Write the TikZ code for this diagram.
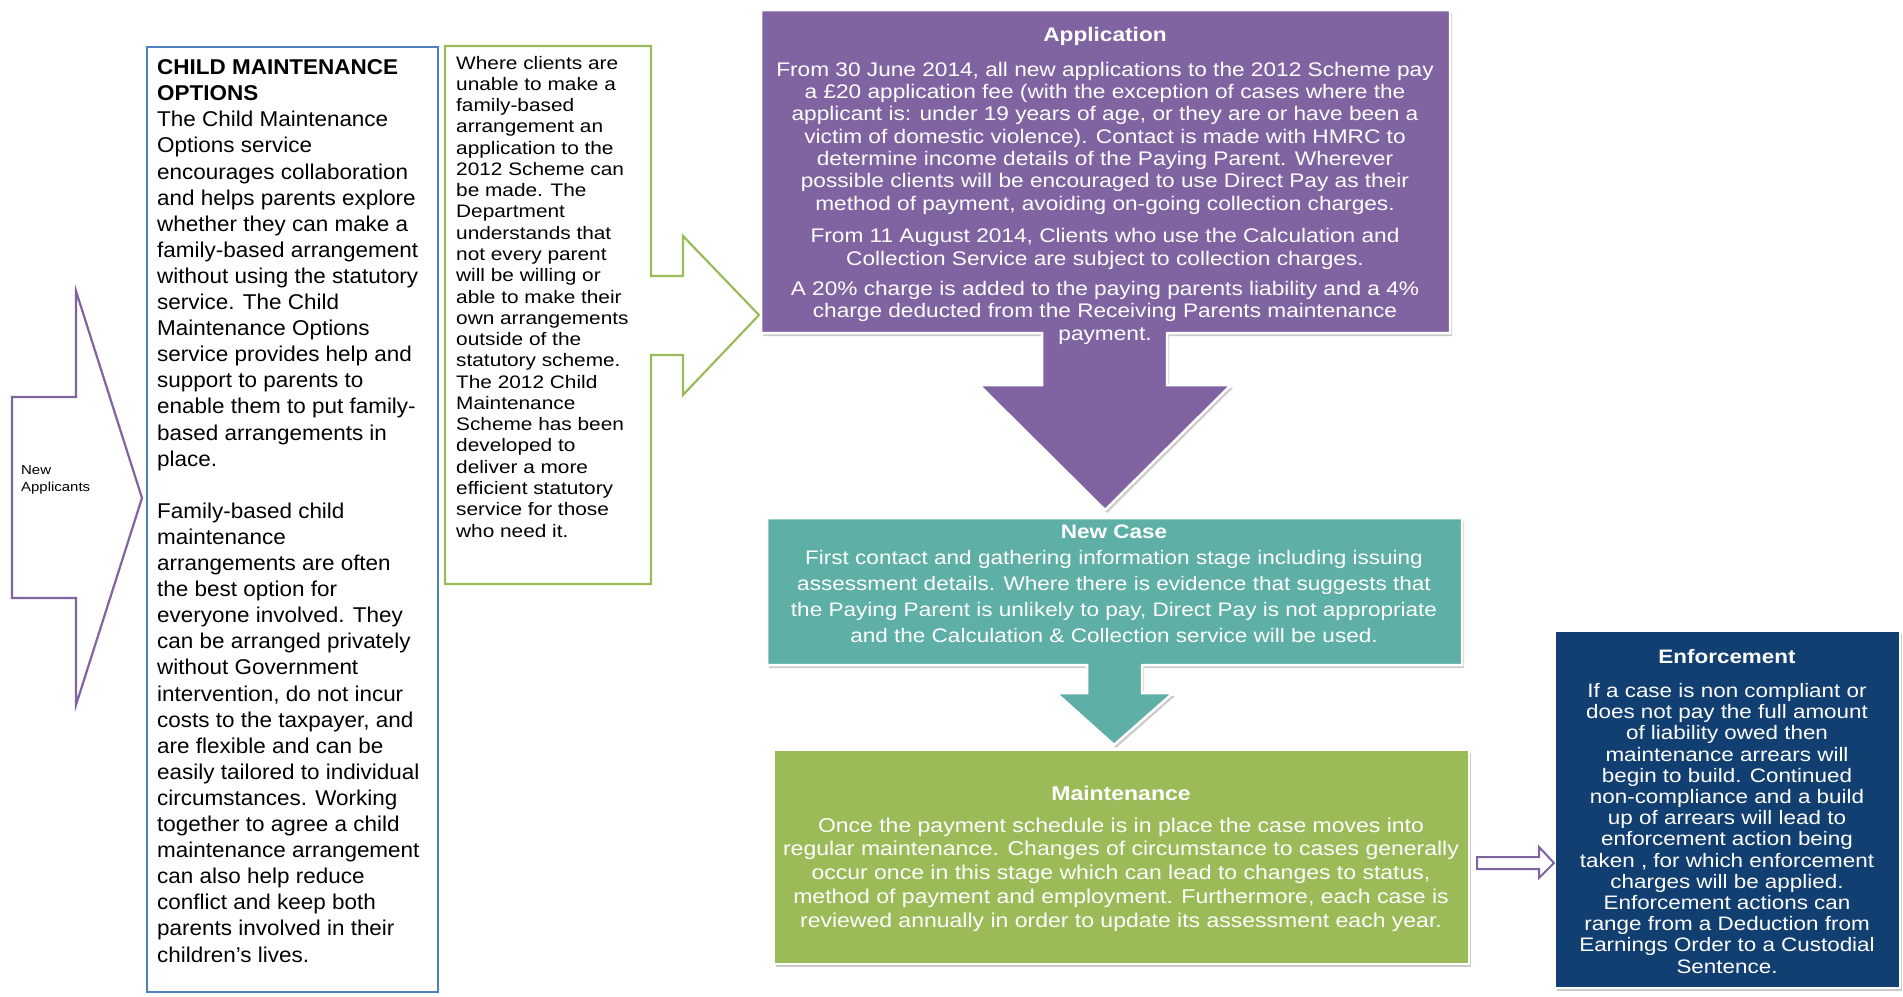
\documentclass[tikz,border=0pt]{standalone}
\usepackage{fontspec}
\setmainfont{Liberation Sans}
\newfontfamily\wfont[FakeStretch=1.15]{Liberation Sans}
\newfontfamily\ofont[FakeStretch=1.05]{Liberation Sans}
\usetikzlibrary{shadows}
\definecolor{cmpurple}{HTML}{8064A2}
\definecolor{cmteal}{HTML}{5EAFA5}
\definecolor{cmgreen}{HTML}{9BBB59}
\definecolor{cmblue}{HTML}{4F81BD}
\definecolor{cmnavy}{HTML}{123F72}

\begin{document}
\begin{tikzpicture}[x=1pt, y=-1pt,
  stage/.style={draw=white, line width=2.5pt, drop shadow={shadow xshift=2pt, shadow yshift=-3pt, opacity=0.5, fill=black!40}},
  outl/.style={fill=white, line width=2.2pt},
  stagetext/.style={text=white, align=center, anchor=base, inner sep=0pt},
  sidetext/.style={text=black, align=left, anchor=base west, inner sep=0pt}]
\fill[white] (0,0) rectangle (1903,996);
\useasboundingbox (0,0) rectangle (1903,996);

% left hand side
\draw[outl, draw=cmpurple] (12,397) -- (76,397) -- (76,291) -- (142,498) -- (76,705) -- (76,598) -- (12,598) -- cycle;
\draw[outl, draw=cmblue] (147,47) rectangle (438,992);
\draw[outl, draw=cmgreen] (445,46) -- (651,46) -- (651,276) -- (683,276) -- (683,236) -- (759,315) -- (683,395) -- (683,355) -- (651,355) -- (651,584) -- (445,584) -- cycle;

% the stages
\path[stage, fill=cmpurple] (761,10) -- (1450,10) -- (1450,333) -- (1167,333) -- (1167,385) -- (1231,385) -- (1105,510) -- (979,385) -- (1042,385) -- (1042,333) -- (761,333) -- cycle;
\path[stage, fill=cmteal] (767,518) -- (1462,518) -- (1462,665) -- (1142,665) -- (1142,693) -- (1173,693) -- (1114,745) -- (1056,693) -- (1087,693) -- (1087,665) -- (767,665) -- cycle;
\path[stage, fill=cmgreen] (774,750) rectangle (1469,964);
\path[stage, fill=cmnavy] (1555,631) rectangle (1900,988);
\draw[outl, line width=2pt, draw=cmpurple] (1477,857) -- (1539,857) -- (1539,847) -- (1554,863) -- (1539,878) -- (1539,869) -- (1477,869) -- cycle;

% texts, each placed at the baseline of its last line
\node[sidetext, font=\wfont\fontsize{13}{17}\selectfont] (newapp) at (21,491) {New\\Applicants};

\node[sidetext, font=\ofont\fontsize{21.4}{26.1}\selectfont] (opts) at (157,962) {\textbf{CHILD MAINTENANCE}\\
\textbf{OPTIONS}\\
The Child Maintenance\\
Options service\\
encourages collaboration\\
and helps parents explore\\
whether they can make a\\
family-based arrangement\\
without using the statutory\\
service. The Child\\
Maintenance Options\\
service provides help and\\
support to parents to\\
enable them to put family-\\
based arrangements in\\
place.\\[26.1pt]
Family-based child\\
maintenance\\
arrangements are often\\
the best option for\\
everyone involved. They\\
can be arranged privately\\
without Government\\
intervention, do not incur\\
costs to the taxpayer, and\\
are flexible and can be\\
easily tailored to individual\\
circumstances. Working\\
together to agree a child\\
maintenance arrangement\\
can also help reduce\\
conflict and keep both\\
parents involved in their\\
children’s lives.};

\node[sidetext, font=\wfont\fontsize{18.1}{21.27}\selectfont] (apply) at (456,537) {Where clients are\\
unable to make a\\
family-based\\
arrangement an\\
application to the\\
2012 Scheme can\\
be made. The\\
Department\\
understands that\\
not every parent\\
will be willing or\\
able to make their\\
own arrangements\\
outside of the\\
statutory scheme.\\
The 2012 Child\\
Maintenance\\
Scheme has been\\
developed to\\
deliver a more\\
efficient statutory\\
service for those\\
who need it.};

\node[stagetext, font=\wfont\fontsize{19.7}{22.3}\selectfont] (app) at (1105,340) {\textbf{Application}\\[12.5pt]
From 30 June 2014, all new applications to the 2012 Scheme pay\\
a £20 application fee (with the exception of cases where the\\
applicant is: under 19 years of age, or they are or have been a\\
victim of domestic violence). Contact is made with HMRC to\\
determine income details of the Paying Parent. Wherever\\
possible clients will be encouraged to use Direct Pay as their\\
method of payment, avoiding on-going collection charges.\\[10.5pt]
From 11 August 2014, Clients who use the Calculation and\\
Collection Service are subject to collection charges.\\[8pt]
A 20\% charge is added to the paying parents liability and a 4\%\\
charge deducted from the Receiving Parents maintenance\\
payment.};

\node[stagetext, font=\wfont\fontsize{19.6}{25.9}\selectfont] (newcase) at (1114,642) {\textbf{New Case}\\
First contact and gathering information stage including issuing\\
assessment details. Where there is evidence that suggests that\\
the Paying Parent is unlikely to pay, Direct Pay is not appropriate\\
and the Calculation \& Collection service will be used.};

\node[stagetext, font=\wfont\fontsize{20}{23.7}\selectfont] (maint) at (1121,927) {\textbf{Maintenance}\\[8.3pt]
Once the payment schedule is in place the case moves into\\
regular maintenance. Changes of circumstance to cases generally\\
occur once in this stage which can lead to changes to status,\\
method of payment and employment. Furthermore, each case is\\
reviewed annually in order to update its assessment each year.};

\node[stagetext, font=\wfont\fontsize{19.5}{21.2}\selectfont] (enf) at (1727,973) {\textbf{Enforcement}\\[12.8pt]
If a case is non compliant or\\
does not pay the full amount\\
of liability owed then\\
maintenance arrears will\\
begin to build. Continued\\
non-compliance and a build\\
up of arrears will lead to\\
enforcement action being\\
taken , for which enforcement\\
charges will be applied.\\
Enforcement actions can\\
range from a Deduction from\\
Earnings Order to a Custodial\\
Sentence.};
\end{tikzpicture}
\end{document}
